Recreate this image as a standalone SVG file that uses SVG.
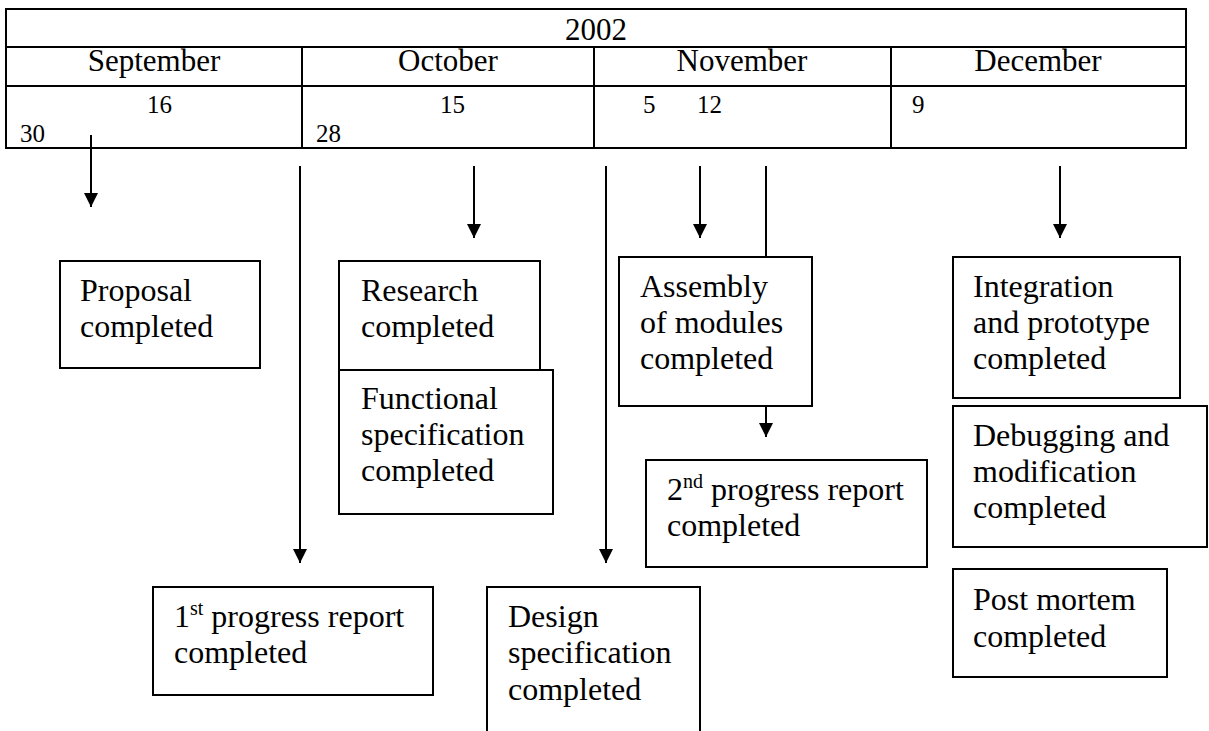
<svg xmlns="http://www.w3.org/2000/svg" width="1209" height="731" viewBox="0 0 1209 731">
<style>
.t{font-family:"Liberation Serif","Times New Roman",serif;font-size:32px;fill:#000}
.m{font-family:"Liberation Serif","Times New Roman",serif;font-size:31px;fill:#000}
.d{font-family:"Liberation Serif","Times New Roman",serif;font-size:25px;fill:#000}
.box{fill:#fff;stroke:#000;stroke-width:2}
.ln{stroke:#000;stroke-width:2;fill:none}
.c{text-anchor:middle}
</style>
<defs>
<marker id="ah" markerUnits="userSpaceOnUse" markerWidth="14" markerHeight="14" viewBox="0 0 14 14" refX="14" refY="7" orient="auto">
<path d="M0,0 L14,7 L0,14 z" fill="#000"/>
</marker>
</defs>
<rect width="1209" height="731" fill="#fff"/>
<g id="timeline">
<rect class="ln" x="6" y="9" width="1180" height="139"/>
<line class="ln" x1="6" y1="47" x2="1186" y2="47"/>
<line class="ln" x1="6" y1="86" x2="1186" y2="86"/>
<line class="ln" x1="302" y1="47" x2="302" y2="148"/>
<line class="ln" x1="594" y1="47" x2="594" y2="148"/>
<line class="ln" x1="891" y1="47" x2="891" y2="148"/>
<text class="m c" x="596" y="40">2002</text>
<text class="m c" x="154" y="71">September</text>
<text class="m c" x="448" y="71">October</text>
<text class="m c" x="742" y="71">November</text>
<text class="m c" x="1038" y="71">December</text>
<text class="d" x="147" y="113">16</text>
<text class="d" x="20" y="142">30</text>
<text class="d" x="440" y="113">15</text>
<text class="d" x="316" y="142">28</text>
<text class="d" x="643" y="113">5</text>
<text class="d" x="697" y="113">12</text>
<text class="d" x="912" y="113">9</text>
</g>
<g id="connectors">
<line class="ln" x1="91" y1="135" x2="91" y2="207" marker-end="url(#ah)"/>
<line class="ln" x1="300" y1="166" x2="300" y2="563" marker-end="url(#ah)"/>
<line class="ln" x1="474" y1="166" x2="474" y2="238" marker-end="url(#ah)"/>
<line class="ln" x1="606" y1="166" x2="606" y2="563" marker-end="url(#ah)"/>
<line class="ln" x1="700" y1="166" x2="700" y2="238" marker-end="url(#ah)"/>
<line class="ln" x1="766" y1="166" x2="766" y2="257"/>
<line class="ln" x1="766" y1="406" x2="766" y2="437" marker-end="url(#ah)"/>
<line class="ln" x1="1060" y1="166" x2="1060" y2="238" marker-end="url(#ah)"/>
</g>
<g id="proposal">
<rect class="box" x="60" y="261" width="200" height="107"/>
<text class="t" x="80" y="301">Proposal</text>
<text class="t" x="80" y="337">completed</text>
</g>
<g id="research">
<rect class="box" x="339" y="261" width="201" height="109"/>
<text class="t" x="361" y="301">Research</text>
<text class="t" x="361" y="337">completed</text>
</g>
<g id="functional">
<rect class="box" x="339" y="370" width="214" height="144"/>
<text class="t" x="361" y="409">Functional</text>
<text class="t" x="361" y="445">specification</text>
<text class="t" x="361" y="481">completed</text>
</g>
<g id="assembly">
<rect class="box" x="619" y="257" width="193" height="149"/>
<text class="t" x="640" y="297">Assembly</text>
<text class="t" x="640" y="333">of modules</text>
<text class="t" x="640" y="369">completed</text>
</g>
<g id="integration">
<rect class="box" x="953" y="257" width="227" height="141"/>
<text class="t" x="973" y="297">Integration</text>
<text class="t" x="973" y="333">and prototype</text>
<text class="t" x="973" y="369">completed</text>
</g>
<g id="debugging">
<rect class="box" x="953" y="406" width="254" height="141"/>
<text class="t" x="973" y="446">Debugging and</text>
<text class="t" x="973" y="482">modification</text>
<text class="t" x="973" y="518">completed</text>
</g>
<g id="progress2">
<rect class="box" x="646" y="460" width="281" height="107"/>
<text class="t" x="667" y="500">2<tspan font-size="20" dy="-12">nd</tspan><tspan dy="12"> progress report</tspan></text>
<text class="t" x="667" y="536">completed</text>
</g>
<g id="progress1">
<rect class="box" x="153" y="587" width="280" height="108"/>
<text class="t" x="174" y="627">1<tspan font-size="20" dy="-12">st</tspan><tspan dy="12"> progress report</tspan></text>
<text class="t" x="174" y="663">completed</text>
</g>
<g id="design">
<rect class="box" x="487" y="587" width="213" height="160"/>
<text class="t" x="508" y="627">Design</text>
<text class="t" x="508" y="663">specification</text>
<text class="t" x="508" y="700">completed</text>
</g>
<g id="postmortem">
<rect class="box" x="953" y="569" width="214" height="108"/>
<text class="t" x="973" y="610">Post mortem</text>
<text class="t" x="973" y="647">completed</text>
</g>
</svg>
